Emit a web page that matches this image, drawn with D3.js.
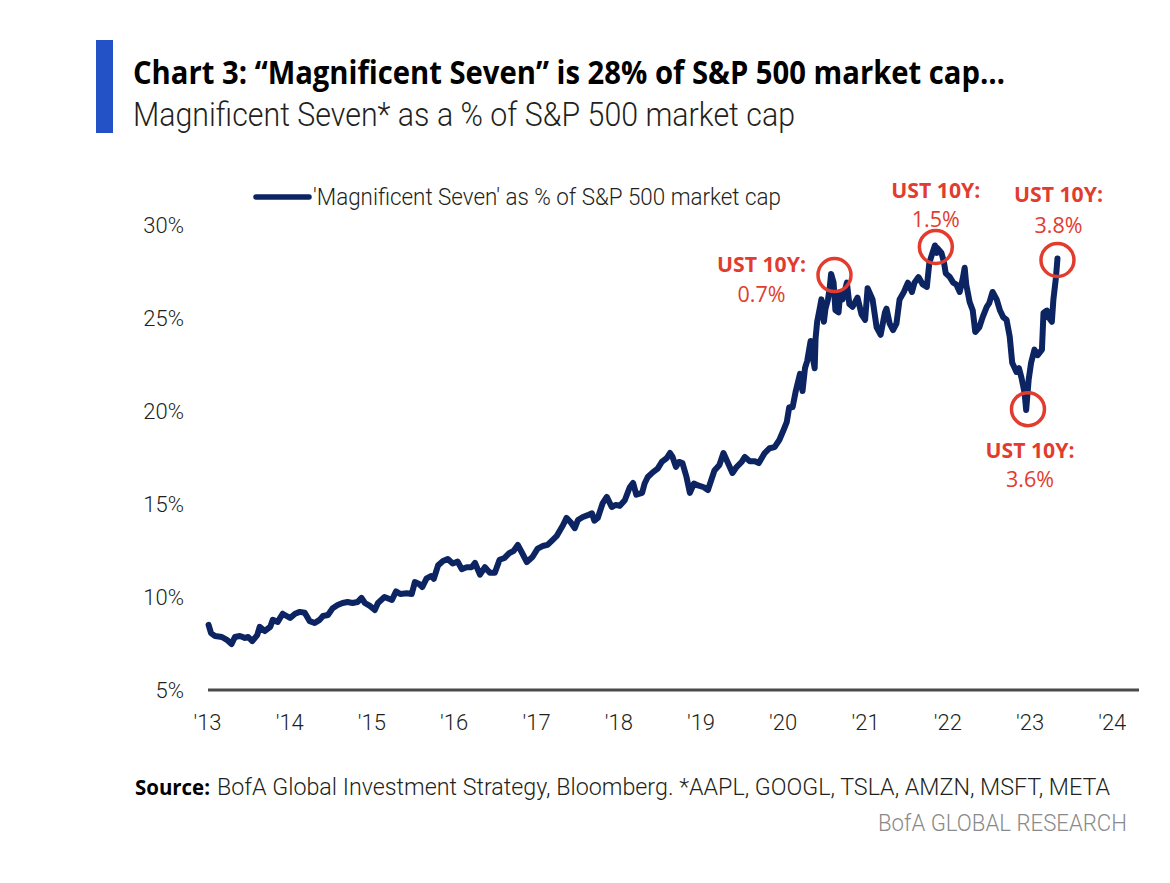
<!DOCTYPE html>
<html>
<head>
<meta charset="utf-8">
<script src="https://cdn.jsdelivr.net/npm/d3@7"></script>
<style>
  html, body { margin: 0; padding: 0; background: #fff; }
  svg { display: block; }
</style>
</head>
<body>
<svg id="chart" width="1170" height="883"></svg>
<script>
// ---------------- DATA ----------------
const titleText = "Chart 3: \u201CMagnificent Seven\u201D is 28% of S&P 500 market cap\u2026";
const subtitleText = "Magnificent Seven* as a % of S&P 500 market cap";
const seriesName = "'Magnificent Seven' as % of S&P 500 market cap";
const sourceLabel = "Source:";
const sourceText = "BofA Global Investment Strategy, Bloomberg. *AAPL, GOOGL, TSLA, AMZN, MSFT, META";
const brandText = "BofA GLOBAL RESEARCH";

// time as decimal years
const years = [
  2013.02,2013.05,2013.10,2013.18,2013.24,2013.30,2013.34,2013.40,2013.46,2013.50,
  2013.55,2013.61,2013.64,2013.70,2013.77,2013.80,2013.86,2013.92,2014.01,2014.07,
  2014.13,2014.19,2014.25,2014.31,2014.37,2014.41,2014.47,2014.53,2014.59,2014.65,
  2014.71,2014.77,2014.83,2014.88,2014.92,2014.98,2015.04,2015.08,2015.16,2015.25,
  2015.30,2015.35,2015.43,2015.49,2015.53,2015.58,2015.62,2015.67,2015.73,2015.76,
  2015.81,2015.87,2015.93,2015.99,2016.05,2016.10,2016.16,2016.22,2016.26,2016.32,
  2016.38,2016.44,2016.50,2016.56,2016.62,2016.68,2016.73,2016.78,2016.84,2016.89,
  2016.96,2017.02,2017.08,2017.14,2017.20,2017.25,2017.33,2017.37,2017.42,2017.47,
  2017.51,2017.57,2017.63,2017.68,2017.71,2017.75,2017.81,2017.86,2017.92,2017.97,
  2018.02,2018.08,2018.14,2018.18,2018.22,2018.29,2018.32,2018.36,2018.42,2018.48,
  2018.53,2018.59,2018.63,2018.66,2018.70,2018.74,2018.78,2018.83,2018.87,2018.92,
  2018.97,2019.04,2019.09,2019.17,2019.23,2019.28,2019.33,2019.39,2019.44,2019.50,
  2019.54,2019.60,2019.66,2019.71,2019.78,2019.84,2019.90,2019.96,2020.01,2020.05,
  2020.08,2020.12,2020.16,2020.21,2020.24,2020.27,2020.30,2020.34,2020.36,2020.39,
  2020.40,2020.42,2020.45,2020.47,2020.50,2020.52,2020.55,2020.57,2020.59,2020.62,
  2020.64,2020.68,2020.70,2020.73,2020.78,2020.81,2020.85,2020.91,2020.96,2021.00,
  2021.03,2021.09,2021.14,2021.19,2021.24,2021.26,2021.30,2021.34,2021.38,2021.42,
  2021.47,2021.52,2021.57,2021.60,2021.65,2021.70,2021.75,2021.78,2021.82,2021.85,
  2021.87,2021.88,2021.93,2021.96,2021.98,2022.03,2022.07,2022.11,2022.15,2022.19,
  2022.21,2022.23,2022.27,2022.31,2022.34,2022.39,2022.43,2022.48,2022.51,2022.55,
  2022.60,2022.64,2022.68,2022.72,2022.76,2022.79,2022.84,2022.87,2022.90,2022.94,
  2022.96,2022.99,2023.02,2023.06,2023.10,2023.15,2023.17,2023.21,2023.23,2023.27,
  2023.29,2023.32,2023.34
];
const share = [
  8.50,8.06,7.90,7.85,7.70,7.47,7.85,7.90,7.80,7.85,
  7.63,7.95,8.40,8.17,8.40,8.77,8.66,9.10,8.87,9.10,
  9.20,9.15,8.70,8.60,8.77,8.98,9.03,9.40,9.57,9.68,
  9.73,9.68,9.73,9.95,9.68,9.52,9.30,9.68,10.00,9.84,
  10.30,10.16,10.20,10.16,10.80,10.70,10.54,11.00,11.13,10.98,
  11.70,11.93,12.04,11.80,11.90,11.50,11.60,11.60,11.83,11.20,
  11.60,11.30,11.30,12.00,12.10,12.37,12.47,12.80,12.30,11.88,
  12.15,12.60,12.74,12.80,13.06,13.27,13.87,14.25,14.03,13.70,
  14.14,14.30,14.40,14.50,14.10,14.25,15.05,15.38,14.84,14.95,
  14.90,15.20,15.90,16.13,15.50,15.60,16.10,16.45,16.70,16.90,
  17.26,17.47,17.74,17.53,17.00,17.26,17.20,16.45,15.60,16.10,
  16.00,15.90,15.75,16.80,17.10,17.74,17.26,16.67,17.00,17.26,
  17.53,17.30,17.30,17.20,17.74,18.00,18.06,18.44,18.98,19.40,
  20.20,20.20,21.07,22.00,21.07,22.30,22.70,23.76,23.06,22.30,
  23.90,24.80,25.48,26.00,24.80,25.50,26.00,26.56,27.37,26.90,
  25.43,25.30,26.40,26.00,26.90,25.75,25.60,26.10,25.20,24.90,
  26.60,26.00,24.50,24.10,25.30,25.50,24.70,24.35,24.70,26.00,
  26.40,26.90,26.40,26.90,27.20,26.80,26.67,27.96,28.50,28.90,
  28.50,28.76,28.50,28.00,27.40,27.20,26.90,26.80,26.40,27.15,
  27.70,26.80,25.86,25.40,24.25,24.50,25.05,25.60,25.80,26.40,
  26.00,25.40,25.05,24.90,24.00,22.60,22.10,22.30,21.80,20.97,
  20.05,21.67,22.60,23.30,23.00,23.30,25.27,25.40,25.05,24.80,
  26.00,27.15,28.20
];

const yTicks = [5, 10, 15, 20, 25, 30];
const xTickYears = [2013,2014,2015,2016,2017,2018,2019,2020,2021,2022,2023,2024];

// annotations: circled points and 10Y yield labels
const annotYears  = [2020.63, 2021.86, 2023.34, 2022.98];
const annotValues = [27.31, 28.82, 28.12, 20.10];
const annotHead   = ["UST 10Y:", "UST 10Y:", "UST 10Y:", "UST 10Y:"];
const annotYield  = ["0.7%", "1.5%", "3.8%", "3.6%"];

// ---------------- DRAW ----------------
const toDate = t => {
  const y = Math.floor(t);
  const f = t - y;
  return new Date(y, 0, 1 + Math.round(f * 365));
};
const data = years.map((t, i) => ({ date: toDate(t), v: share[i] }));

const svg = d3.select("#chart");
const navy = "#0c2462";
const red = "#e23c2f";
const ink = "#231f20";
const baseFont = "Roboto, 'Open Sans', 'Liberation Sans', sans-serif";
const boldFont = "'Open Sans', Roboto, 'Liberation Sans', sans-serif";

const x = d3.scaleTime()
  .domain([new Date(2013, 0, 1), new Date(2024, 4, 1)])
  .range([207, 1139]);
const y = d3.scaleLinear().domain([5, 30]).range([690, 225]);

// header
svg.append("rect").attr("x", 96).attr("y", 40).attr("width", 17).attr("height", 93)
  .attr("fill", "#2352c7");
svg.append("text").attr("x", 133).attr("y", 84)
  .attr("font-family", boldFont).attr("font-weight", 700).attr("font-size", 33)
  .attr("fill", "#000").attr("textLength", 872).attr("lengthAdjust", "spacingAndGlyphs")
  .text(titleText);
svg.append("text").attr("x", 133).attr("y", 126)
  .attr("font-family", baseFont).attr("font-weight", 300).attr("font-size", 33)
  .attr("fill", ink).attr("textLength", 662).attr("lengthAdjust", "spacingAndGlyphs")
  .text(subtitleText);

// legend
svg.append("line").attr("x1", 256).attr("x2", 309).attr("y1", 197).attr("y2", 197)
  .attr("stroke", navy).attr("stroke-width", 5.5).attr("stroke-linecap", "round");
svg.append("text").attr("x", 313).attr("y", 205)
  .attr("font-family", baseFont).attr("font-weight", 300).attr("font-size", 23)
  .attr("fill", ink).attr("textLength", 468).attr("lengthAdjust", "spacingAndGlyphs")
  .text(seriesName);

// y axis labels
const yAxis = d3.axisLeft(y).tickValues(yTicks).tickSize(0).tickPadding(0)
  .tickFormat(d => d + "%");
const gy = svg.append("g").attr("transform", "translate(184,0)").call(yAxis);
gy.select(".domain").remove();
gy.selectAll("text").attr("font-family", baseFont).attr("font-weight", 300)
  .attr("font-size", 22).attr("fill", ink).attr("dy", "0.35em");

// x axis
const xAxis = d3.axisBottom(x).tickValues(xTickYears.map(yr => new Date(yr, 0, 1)))
  .tickSize(0).tickPadding(0).tickFormat(d3.timeFormat("'%y"));
const gx = svg.append("g").attr("transform", "translate(0,690)").call(xAxis);
gx.select(".domain").attr("stroke", "#4a4a4a").attr("stroke-width", 3)
  .attr("d", `M${x.range()[0] + 1},0H${x.range()[1]}`);
gx.selectAll("text").attr("font-family", baseFont).attr("font-weight", 300)
  .attr("font-size", 22).attr("fill", ink).attr("y", 40).attr("dy", 0);

// line
const line = d3.line().x(d => x(d.date)).y(d => y(d.v)).curve(d3.curveLinear);
svg.append("path").datum(data).attr("d", line)
  .attr("fill", "none").attr("stroke", navy).attr("stroke-width", 6)
  .attr("stroke-linejoin", "round").attr("stroke-linecap", "round");

// annotations (label offsets are layout, relative to each circle)
const annotLayout = [
  { dx: -73, dy1: -3,  dy2: 27 },
  { dx: 0,   dy1: -49, dy2: -20 },
  { dx: 1,   dy1: -58, dy2: -27 },
  { dx: 2,   dy1: 49,  dy2: 78 }
];
annotYears.forEach((t, i) => {
  const cx = x(toDate(t)), cy = y(annotValues[i]);
  const L = annotLayout[i];
  svg.append("circle").attr("cx", cx).attr("cy", cy).attr("r", 16.5)
    .attr("fill", "none").attr("stroke", red).attr("stroke-width", 3.5);
  svg.append("text").attr("x", cx + L.dx).attr("y", cy + L.dy1)
    .attr("text-anchor", "middle").attr("font-family", boldFont).attr("font-weight", 700)
    .attr("font-size", 21).attr("fill", red)
    .attr("textLength", 89).attr("lengthAdjust", "spacingAndGlyphs")
    .text(annotHead[i]);
  svg.append("text").attr("x", cx + L.dx).attr("y", cy + L.dy2)
    .attr("text-anchor", "middle").attr("font-family", boldFont).attr("font-weight", 400)
    .attr("font-size", 21).attr("fill", red)
    .attr("textLength", 48).attr("lengthAdjust", "spacingAndGlyphs")
    .text(annotYield[i]);
});

// footer
svg.append("text").attr("x", 135).attr("y", 795)
  .attr("font-family", boldFont).attr("font-weight", 700).attr("font-size", 22)
  .attr("fill", "#000").attr("textLength", 75).attr("lengthAdjust", "spacingAndGlyphs")
  .text(sourceLabel);
svg.append("text").attr("x", 217).attr("y", 795)
  .attr("font-family", baseFont).attr("font-weight", 300).attr("font-size", 23)
  .attr("fill", ink).attr("textLength", 893).attr("lengthAdjust", "spacingAndGlyphs")
  .text(sourceText);
svg.append("text").attr("x", 1127).attr("y", 831).attr("text-anchor", "end")
  .attr("font-family", baseFont).attr("font-weight", 300).attr("font-size", 23)
  .attr("fill", "#8a8a8a").attr("textLength", 249).attr("lengthAdjust", "spacingAndGlyphs")
  .text(brandText);
</script>
</body>
</html>
